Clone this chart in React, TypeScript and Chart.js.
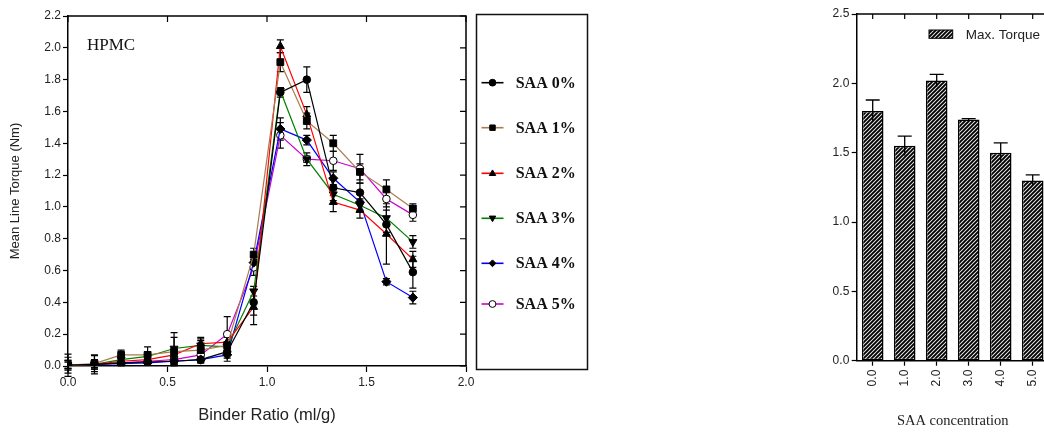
import React, { useEffect, useRef } from "react";
import { Chart, registerables } from "chart.js";
Chart.register(...registerables);

// ---------------- data ----------------
const binderRatio = [0, 0.133, 0.267, 0.4, 0.533, 0.667, 0.8, 0.933, 1.067, 1.2, 1.333, 1.467, 1.6, 1.733];
const seriesLabels = ["SAA 0%", "SAA 1%", "SAA 2%", "SAA 3%", "SAA 4%", "SAA 5%"];

const saa0 = [0.005, 0.01, 0.02, 0.025, 0.03, 0.04, 0.09, 0.40, 1.72, 1.80, 1.12, 1.09, 0.89, 0.59];
const saa1 = [0.005, 0.015, 0.07, 0.07, 0.09, 0.10, 0.13, 0.70, 1.91, 1.54, 1.40, 1.22, 1.11, 0.99];
const saa2 = [0.005, 0.01, 0.03, 0.04, 0.07, 0.14, 0.15, 0.37, 2.01, 1.58, 1.03, 0.98, 0.83, 0.67];
const saa3 = [0.005, 0.01, 0.04, 0.06, 0.11, 0.13, 0.12, 0.47, 1.73, 1.30, 1.08, 1.01, 0.93, 0.78];
const saa4 = [0.005, 0.01, 0.015, 0.02, 0.03, 0.04, 0.07, 0.65, 1.49, 1.42, 1.18, 1.03, 0.53, 0.43];
const saa5 = [0.005, 0.01, 0.02, 0.03, 0.04, 0.07, 0.20, 0.62, 1.45, 1.30, 1.29, 1.24, 1.05, 0.95];

const saa0Err = [0.07, 0.06, 0.02, 0.02, 0.02, 0.02, 0.06, 0.08, 0.03, 0.08, 0.05, 0.06, 0.05, 0.10];
const saa1Err = [0.05, 0.05, 0.03, 0.05, 0.09, 0.08, 0.05, 0.04, 0.06, 0.05, 0.05, 0.05, 0.06, 0.03];
const saa2Err = [0.03, 0.03, 0.02, 0.02, 0.03, 0.03, 0.04, 0.11, 0.04, 0.05, 0.06, 0.05, 0.19, 0.05];
const saa3Err = [0.03, 0.03, 0.02, 0.03, 0.10, 0.03, 0.03, 0.03, 0.02, 0.04, 0.04, 0.04, 0.05, 0.04];
const saa4Err = [0.02, 0.02, 0.01, 0.01, 0.01, 0.01, 0.02, 0.04, 0.07, 0.03, 0.04, 0.05, 0.02, 0.04];
const saa5Err = [0.02, 0.02, 0.01, 0.01, 0.02, 0.02, 0.11, 0.05, 0.08, 0.02, 0.06, 0.09, 0.05, 0.04];

const seriesValues = [saa0, saa1, saa2, saa3, saa4, saa5];
const seriesErrors = [saa0Err, saa1Err, saa2Err, saa3Err, saa4Err, saa5Err];

const barCategories = ["0.0", "1.0", "2.0", "3.0", "4.0", "5.0"];
const maxTorque = [1.80, 1.55, 2.02, 1.74, 1.50, 1.30];
const maxTorqueErr = [0.08, 0.07, 0.045, 0.005, 0.07, 0.04];

// ---------------- styles ----------------
const SANS = "'Liberation Sans', Arial, sans-serif";
const SERIF = "'Liberation Serif', 'Times New Roman', serif";
const lineColors = ["#000000", "#A87C50", "#FF0000", "#008000", "#0000FF", "#CC00CC"];
const pointStyles = ["circle", "rect", "triangle", "triangle", "rectRot", "circle"];
const pointRotations = [0, 0, 0, 180, 0, 0];
const pointFills = ["#000", "#000", "#000", "#000", "#000", "#fff"];
const pointRadii = [3.8, 4.8, 4.6, 4.6, 4.6, 3.8];
const legendRowY = [82.7, 127.7, 173.3, 218.3, 263.3, 304];

function drawMarker(ctx: CanvasRenderingContext2D, style: string, rot: number, x: number, y: number, r: number, fill: string) {
  ctx.save();
  ctx.translate(x, y);
  ctx.rotate((rot * Math.PI) / 180);
  ctx.beginPath();
  if (style === "circle") {
    ctx.arc(0, 0, r, 0, Math.PI * 2);
  } else if (style === "rect") {
    ctx.rect(-r * 0.8, -r * 0.8, r * 1.6, r * 1.6);
  } else if (style === "triangle") {
    ctx.moveTo(0, -r);
    ctx.lineTo(r * 0.95, r * 0.65);
    ctx.lineTo(-r * 0.95, r * 0.65);
    ctx.closePath();
  } else if (style === "rectRot") {
    ctx.moveTo(0, -r);
    ctx.lineTo(r, 0);
    ctx.lineTo(0, r);
    ctx.lineTo(-r, 0);
    ctx.closePath();
  }
  ctx.fillStyle = fill;
  ctx.fill();
  ctx.lineWidth = 1;
  ctx.strokeStyle = "#000";
  ctx.stroke();
  ctx.restore();
}

const lineErrorBars = {
  id: "lineErrorBars",
  beforeDatasetsDraw(chart: any) {
    const { ctx } = chart;
    const xs = chart.scales.x;
    const ys = chart.scales.y;
    ctx.save();
    ctx.strokeStyle = "#000";
    ctx.lineWidth = 1.2;
    chart.data.datasets.forEach((ds: any) => {
      const errs = ds.errors;
      if (!errs) return;
      ds.data.forEach((pt: any, i: number) => {
        const px = xs.getPixelForValue(pt.x);
        const t = ys.getPixelForValue(pt.y + errs[i]);
        const b = ys.getPixelForValue(pt.y - errs[i]);
        ctx.beginPath();
        ctx.moveTo(px, t);
        ctx.lineTo(px, b);
        ctx.moveTo(px - 3.5, t);
        ctx.lineTo(px + 3.5, t);
        ctx.moveTo(px - 3.5, b);
        ctx.lineTo(px + 3.5, b);
        ctx.stroke();
      });
    });
    ctx.restore();
  },
};

const leftDecor = {
  id: "leftDecor",
  afterDraw(chart: any) {
    const { ctx, chartArea } = chart;
    const { left, right, top, bottom } = chartArea;
    const xs = chart.scales.x;
    const ys = chart.scales.y;
    ctx.save();
    ctx.strokeStyle = "#000";
    ctx.lineWidth = 1.5;
    ctx.beginPath();
    ctx.moveTo(left, top);
    ctx.lineTo(right, top);
    ctx.lineTo(right, bottom);
    ctx.stroke();
    ctx.lineWidth = 1.2;
    ctx.beginPath();
    xs.ticks.forEach((t: any) => {
      const px = xs.getPixelForValue(t.value);
      ctx.moveTo(px, top);
      ctx.lineTo(px, top + 6);
    });
    ys.ticks.forEach((t: any) => {
      const py = ys.getPixelForValue(t.value);
      ctx.moveTo(right, py);
      ctx.lineTo(right - 6, py);
    });
    ctx.stroke();

    // HPMC label
    ctx.fillStyle = "#111";
    ctx.font = `17px ${SERIF}`;
    ctx.textBaseline = "alphabetic";
    ctx.textAlign = "left";
    ctx.fillText("HPMC", left + 19, top + 34);

    // legend box
    ctx.lineWidth = 1.5;
    ctx.strokeStyle = "#111";
    ctx.strokeRect(476.5, 14.5, 111, 355);
    chart.data.datasets.forEach((ds: any, k: number) => {
      const y = legendRowY[k];
      ctx.strokeStyle = lineColors[k];
      ctx.lineWidth = 1.6;
      ctx.beginPath();
      ctx.moveTo(481.5, y);
      ctx.lineTo(503.5, y);
      ctx.stroke();
      drawMarker(ctx, pointStyles[k], pointRotations[k], 492.5, y, 3.4, pointFills[k]);
      ctx.fillStyle = "#111";
      ctx.font = `bold 16px ${SERIF}`;
      ctx.textBaseline = "middle";
      ctx.fillText(ds.label, 515.7, y + 1);
    });
    ctx.restore();
  },
};

const barErrorBars = {
  id: "barErrorBars",
  afterDatasetsDraw(chart: any) {
    const { ctx } = chart;
    const ys = chart.scales.y;
    ctx.save();
    ctx.strokeStyle = "#000";
    ctx.lineWidth = 1.3;
    chart.data.datasets.forEach((ds: any, di: number) => {
      const meta = chart.getDatasetMeta(di);
      meta.data.forEach((bar: any, i: number) => {
        const v = ds.data[i];
        const e = ds.errors[i];
        const t = ys.getPixelForValue(v + e);
        const b = ys.getPixelForValue(v - e);
        ctx.beginPath();
        ctx.moveTo(bar.x, b);
        ctx.lineTo(bar.x, t);
        ctx.moveTo(bar.x - 7, t);
        ctx.lineTo(bar.x + 7, t);
        ctx.stroke();
      });
    });
    ctx.restore();
  },
};

function makeHatch(): CanvasPattern | string {
  const c = document.createElement("canvas");
  c.width = 4;
  c.height = 4;
  const g = c.getContext("2d");
  if (!g) return "#555";
  g.fillStyle = "#e8e8e8";
  g.fillRect(0, 0, 4, 4);
  g.strokeStyle = "#000";
  g.lineWidth = 1.9;
  g.beginPath();
  g.moveTo(-1, 5);
  g.lineTo(5, -1);
  g.moveTo(-1, 1);
  g.lineTo(1, -1);
  g.moveTo(3, 5);
  g.lineTo(5, 3);
  g.stroke();
  const p = g.createPattern(c, "repeat");
  return p || "#555";
}

export default function App() {
  const leftRef = useRef<HTMLCanvasElement>(null);
  const rightRef = useRef<HTMLCanvasElement>(null);

  useEffect(() => {
    const hatch = makeHatch();
    const rightDecor = {
      id: "rightDecor",
      afterDraw(chart: any) {
        const { ctx, chartArea } = chart;
        const { left, right, top } = chartArea;
        const xs = chart.scales.x;
        ctx.save();
        ctx.strokeStyle = "#000";
        ctx.lineWidth = 1.5;
        ctx.beginPath();
        ctx.moveTo(left, top);
        ctx.lineTo(right + 40, top);
        ctx.stroke();
        ctx.lineWidth = 1.2;
        ctx.beginPath();
        xs.ticks.forEach((_t: any, i: number) => {
          const px = xs.getPixelForTick(i);
          ctx.moveTo(px, top);
          ctx.lineTo(px, top + 5);
        });
        ctx.stroke();
        // legend
        ctx.fillStyle = hatch as any;
        ctx.fillRect(139, 30, 23.7, 8.3);
        ctx.strokeStyle = "#000";
        ctx.lineWidth = 1;
        ctx.strokeRect(139, 30, 23.7, 8.3);
        ctx.fillStyle = "#222";
        ctx.font = `13.5px ${SANS}`;
        ctx.textBaseline = "middle";
        ctx.textAlign = "left";
        ctx.fillText(chart.data.datasets[0].label, 175.7, 35.7);
        ctx.restore();
      },
    };

    const left = new Chart(leftRef.current as HTMLCanvasElement, {
      type: "line",
      data: {
        datasets: seriesValues.map((vals, k) => ({
          label: seriesLabels[k],
          data: binderRatio.map((x, i) => ({ x, y: vals[i] })),
          errors: seriesErrors[k],
          borderColor: lineColors[k],
          borderWidth: 1.2,
          backgroundColor: pointFills[k],
          pointBackgroundColor: pointFills[k],
          pointBorderColor: "#000",
          pointBorderWidth: 1,
          pointStyle: pointStyles[k],
          pointRotation: pointRotations[k],
          pointRadius: pointRadii[k],
          tension: 0,
          fill: false,
        })) as any,
      },
      options: {
        responsive: false,
        animation: false,
        layout: { padding: { top: 16, right: 134, left: 0, bottom: 0 } },
        plugins: { legend: { display: false }, tooltip: { enabled: false } },
        scales: {
          x: {
            type: "linear",
            min: 0,
            max: 2,
            ticks: {
              stepSize: 0.5,
              callback: (v: any) => Number(v).toFixed(1),
              color: "#222",
              font: { family: SANS, size: 12 },
              padding: 3,
              maxRotation: 0,
            },
            grid: { drawOnChartArea: false, tickLength: 6, color: "#000", tickWidth: 1.2 },
            border: { color: "#000", width: 1.5 },
            title: {
              display: true,
              text: "Binder Ratio (ml/g)",
              color: "#222",
              font: { family: SANS, size: 16.5 },
              padding: { top: 0, bottom: 8.6 },
            },
            afterFit: (s: any) => {
              s.height = 68;
            },
          },
          y: {
            min: 0,
            max: 2.2,
            ticks: {
              stepSize: 0.2,
              callback: (v: any) => Number(v).toFixed(1),
              color: "#222",
              font: { family: SANS, size: 12 },
              padding: 2,
            },
            grid: { drawOnChartArea: false, tickLength: 5, color: "#000", tickWidth: 1.2 },
            border: { color: "#000", width: 1.5 },
            title: {
              display: true,
              text: "Mean Line Torque (Nm)",
              color: "#222",
              font: { family: SANS, size: 13 },
              padding: { top: 8, bottom: 0 },
            },
            afterFit: (s: any) => {
              s.width = 68;
            },
          },
        },
      } as any,
      plugins: [lineErrorBars, leftDecor],
    });

    const right = new Chart(rightRef.current as HTMLCanvasElement, {
      type: "bar",
      data: {
        labels: barCategories,
        datasets: [
          {
            label: "Max. Torque",
            data: maxTorque,
            errors: maxTorqueErr,
            backgroundColor: hatch as any,
            borderColor: "#000",
            borderWidth: 1.5,
            borderSkipped: false,
            barPercentage: 0.675,
            categoryPercentage: 1,
          } as any,
        ],
      },
      options: {
        responsive: false,
        animation: false,
        layout: { padding: { top: 14, right: 11.3, left: 0, bottom: 0 } },
        plugins: { legend: { display: false }, tooltip: { enabled: false } },
        scales: {
          x: {
            ticks: {
              minRotation: 90,
              maxRotation: 90,
              color: "#222",
              font: { family: SANS, size: 12 },
              padding: 4,
            },
            grid: { offset: false, drawOnChartArea: false, tickLength: 5, color: "#000", tickWidth: 1.2 },
            border: { color: "#000", width: 1.5 },
            title: {
              display: true,
              text: "SAA concentration",
              color: "#222",
              font: { family: SERIF, size: 14.5 },
              padding: { top: 0, bottom: 4.3 },
            },
            afterFit: (s: any) => {
              s.height = 73.3;
            },
          },
          y: {
            min: 0,
            max: 2.5,
            ticks: {
              stepSize: 0.5,
              callback: (v: any) => Number(v).toFixed(1),
              color: "#222",
              font: { family: SANS, size: 12 },
              padding: 2.4,
            },
            grid: { drawOnChartArea: false, tickLength: 5, color: "#000", tickWidth: 1.2 },
            border: { color: "#000", width: 1.5 },
            afterFit: (s: any) => {
              s.width = 66.7;
            },
          },
        },
      } as any,
      plugins: [barErrorBars, rightDecor],
    });

    return () => {
      left.destroy();
      right.destroy();
    };
  }, []);

  return (
    <div
      style={{
        position: "fixed",
        left: 0,
        top: 0,
        width: 1044,
        height: 434,
        overflow: "hidden",
        background: "#fff",
      }}
    >
      <canvas
        ref={leftRef}
        width={600}
        height={434}
        style={{ position: "absolute", left: 0, top: 0, width: 600, height: 434 }}
      />
      <canvas
        ref={rightRef}
        width={270}
        height={434}
        style={{ position: "absolute", left: 790, top: 0, width: 270, height: 434 }}
      />
    </div>
  );
}
